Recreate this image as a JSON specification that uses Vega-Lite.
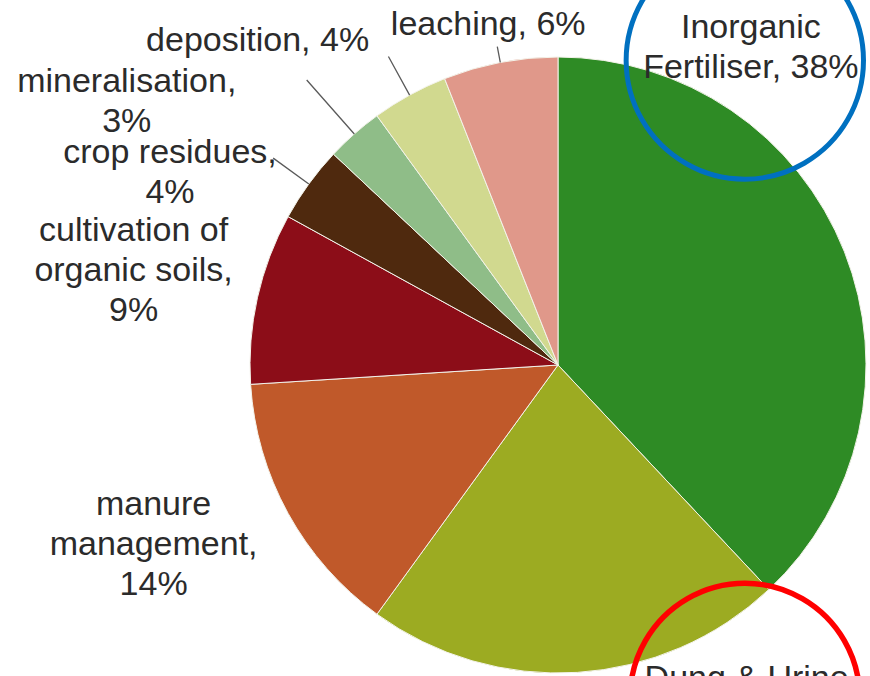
{
  "$schema": "https://vega.github.io/schema/vega-lite/v6.json",
  "autosize": "none",
  "width": 624,
  "height": 622,
  "padding": {"left": 246, "top": 54, "right": 0, "bottom": 0},
  "background": "white",
  "config": {"view": {"stroke": null}, "text": {"font": "Liberation Sans"}},
  "data": {
    "values": [
      {"category": "Inorganic Fertiliser", "value": 38, "idx": 1, "label": "Inorganic\nFertiliser, 38%"},
      {"category": "Dung & Urine", "value": 22, "idx": 2, "label": "Dung & Urine,\n22%"},
      {"category": "manure management", "value": 14, "idx": 3, "label": "manure\nmanagement,\n14%"},
      {"category": "cultivation of organic soils", "value": 9, "idx": 4, "label": "cultivation of\norganic soils,\n9%"},
      {"category": "crop residues", "value": 4, "idx": 5, "label": "crop residues,\n4%"},
      {"category": "mineralisation", "value": 3, "idx": 6, "label": "mineralisation,\n3%"},
      {"category": "deposition", "value": 4, "idx": 7, "label": "deposition, 4%"},
      {"category": "leaching", "value": 6, "idx": 8, "label": "leaching, 6%"}
    ]
  },
  "layer": [
    {
      "mark": {"type": "arc", "outerRadius": 308, "stroke": "#f3f3ea", "strokeWidth": 1},
      "encoding": {
        "theta": {"field": "value", "type": "quantitative", "stack": true, "scale": {"domain": [0, 100]}},
        "color": {
          "field": "category", "type": "nominal", "legend": null,
          "scale": {
            "domain": ["Inorganic Fertiliser", "Dung & Urine", "manure management", "cultivation of organic soils", "crop residues", "mineralisation", "deposition", "leaching"],
            "range": ["#2e8b25", "#9cab22", "#c0592a", "#8c0d18", "#4f290e", "#8fbd88", "#d1d98f", "#e0988a"]
          }
        },
        "order": {"field": "idx", "type": "quantitative"}
      }
    },
    {
      "mark": {"type": "arc", "innerRadius": 308, "outerRadius": 352, "padAngle": 3, "filled": false, "strokeWidth": 1.3},
      "encoding": {
        "theta": {"field": "value", "type": "quantitative", "stack": true, "scale": {"domain": [0, 100]}},
        "detail": {"field": "category", "type": "nominal"},
        "order": {"field": "idx", "type": "quantitative"},
        "stroke": {"condition": {"test": "datum.category === 'crop residues' || datum.category === 'deposition'", "value": "#5a5a5a"}, "value": "transparent"}
      }
    },
    {
      "mark": {"type": "arc", "innerRadius": 308, "outerRadius": 324, "padAngle": 3, "filled": false, "strokeWidth": 1.3},
      "encoding": {
        "theta": {"field": "value", "type": "quantitative", "stack": true, "scale": {"domain": [0, 100]}},
        "detail": {"field": "category", "type": "nominal"},
        "order": {"field": "idx", "type": "quantitative"},
        "stroke": {"condition": {"test": "datum.category === 'leaching'", "value": "#5a5a5a"}, "value": "transparent"}
      }
    },
    {
      "mark": {"type": "arc", "innerRadius": 308, "outerRadius": 380, "padAngle": 3, "filled": false, "strokeWidth": 1.3},
      "encoding": {
        "theta": {"field": "value", "type": "quantitative", "stack": true, "scale": {"domain": [0, 100]}},
        "detail": {"field": "category", "type": "nominal"},
        "order": {"field": "idx", "type": "quantitative"},
        "stroke": {"condition": {"test": "datum.category === 'mineralisation'", "value": "#5a5a5a"}, "value": "transparent"}
      }
    },
    {
      "mark": {"type": "text", "radius": 388, "fontSize": 34, "lineHeight": 40, "lineBreak": "\n", "align": "center", "baseline": "middle", "color": "#2b2b2b"},
      "encoding": {
        "theta": {"field": "value", "type": "quantitative", "stack": true, "scale": {"domain": [0, 100], "range": [-0.7906, 6.1087]}},
        "detail": {"field": "category", "type": "nominal"},
        "order": {"field": "idx", "type": "quantitative"},
        "text": {"condition": {"test": "datum.category === 'Inorganic Fertiliser'", "field": "label", "type": "nominal"}, "value": ""}
      }
    },
    {
      "mark": {"type": "text", "radius": 369, "fontSize": 34, "lineHeight": 40, "lineBreak": "\n", "align": "center", "baseline": "middle", "color": "#2b2b2b"},
      "encoding": {
        "theta": {"field": "value", "type": "quantitative", "stack": true, "scale": {"domain": [0, 100], "range": [-0.7906, 6.1087]}},
        "detail": {"field": "category", "type": "nominal"},
        "order": {"field": "idx", "type": "quantitative"},
        "text": {"condition": {"test": "datum.category === 'Dung & Urine'", "field": "label", "type": "nominal"}, "value": ""}
      }
    },
    {
      "mark": {"type": "text", "radius": 428, "fontSize": 34, "lineHeight": 40, "lineBreak": "\n", "align": "center", "baseline": "middle", "color": "#2b2b2b"},
      "encoding": {
        "theta": {"field": "value", "type": "quantitative", "stack": true, "scale": {"domain": [0, 100], "range": [1.2776, 5.9062]}},
        "detail": {"field": "category", "type": "nominal"},
        "order": {"field": "idx", "type": "quantitative"},
        "text": {"condition": {"test": "datum.category === 'manure management'", "field": "label", "type": "nominal"}, "value": ""}
      }
    },
    {
      "mark": {"type": "text", "radius": 442, "fontSize": 34, "lineHeight": 40, "lineBreak": "\n", "align": "center", "baseline": "middle", "color": "#2b2b2b"},
      "encoding": {
        "theta": {"field": "value", "type": "quantitative", "stack": true, "scale": {"domain": [0, 100], "range": [1.2776, 5.9062]}},
        "detail": {"field": "category", "type": "nominal"},
        "order": {"field": "idx", "type": "quantitative"},
        "text": {"condition": {"test": "datum.category === 'crop residues' || datum.category === 'deposition'", "field": "label", "type": "nominal"}, "value": ""}
      }
    },
    {
      "mark": {"type": "text", "radius": 445, "fontSize": 34, "lineHeight": 40, "lineBreak": "\n", "align": "center", "baseline": "middle", "color": "#2b2b2b"},
      "encoding": {
        "theta": {"field": "value", "type": "quantitative", "stack": true, "scale": {"domain": [0, 100], "range": [0.0855, 6.3687]}},
        "detail": {"field": "category", "type": "nominal"},
        "order": {"field": "idx", "type": "quantitative"},
        "text": {"condition": {"test": "datum.category === 'cultivation of organic soils'", "field": "label", "type": "nominal"}, "value": ""}
      }
    },
    {
      "mark": {"type": "text", "radius": 347, "fontSize": 34, "lineHeight": 40, "lineBreak": "\n", "align": "center", "baseline": "middle", "color": "#2b2b2b"},
      "encoding": {
        "theta": {"field": "value", "type": "quantitative", "stack": true, "scale": {"domain": [0, 100], "range": [-0.014, 6.2692]}},
        "detail": {"field": "category", "type": "nominal"},
        "order": {"field": "idx", "type": "quantitative"},
        "text": {"condition": {"test": "datum.category === 'leaching'", "field": "label", "type": "nominal"}, "value": ""}
      }
    },
    {
      "mark": {"type": "text", "radius": 516, "fontSize": 34, "lineHeight": 40, "lineBreak": "\n", "align": "center", "baseline": "middle", "color": "#2b2b2b"},
      "encoding": {
        "theta": {"field": "value", "type": "quantitative", "stack": true, "scale": {"domain": [0, 100], "range": [-0.267, 6.0162]}},
        "detail": {"field": "category", "type": "nominal"},
        "order": {"field": "idx", "type": "quantitative"},
        "text": {"condition": {"test": "datum.category === 'mineralisation'", "field": "label", "type": "nominal"}, "value": ""}
      }
    },
    {
      "mark": {"type": "text", "radius": 368, "font": "DejaVu Sans", "fontSize": 311, "align": "center", "baseline": "middle", "fill": "transparent", "stroke": "#0070c0", "strokeWidth": 5},
      "encoding": {
        "theta": {"field": "value", "type": "quantitative", "stack": true, "scale": {"domain": [0, 100], "range": [-0.7784, 6.1209]}},
        "detail": {"field": "category", "type": "nominal"},
        "order": {"field": "idx", "type": "quantitative"},
        "text": {"condition": {"test": "datum.category === 'Inorganic Fertiliser'", "value": "●"}, "value": ""}
      }
    },
    {
      "mark": {"type": "text", "radius": 371.5, "font": "DejaVu Sans", "fontSize": 301, "align": "center", "baseline": "middle", "fill": "transparent", "stroke": "#ff0000", "strokeWidth": 5.5},
      "encoding": {
        "theta": {"field": "value", "type": "quantitative", "stack": true, "scale": {"domain": [0, 100], "range": [-0.7662, 6.1331]}},
        "detail": {"field": "category", "type": "nominal"},
        "order": {"field": "idx", "type": "quantitative"},
        "text": {"condition": {"test": "datum.category === 'Dung & Urine'", "value": "●"}, "value": ""}
      }
    }
  ],
  "resolve": {"scale": {"theta": "independent"}}
}
